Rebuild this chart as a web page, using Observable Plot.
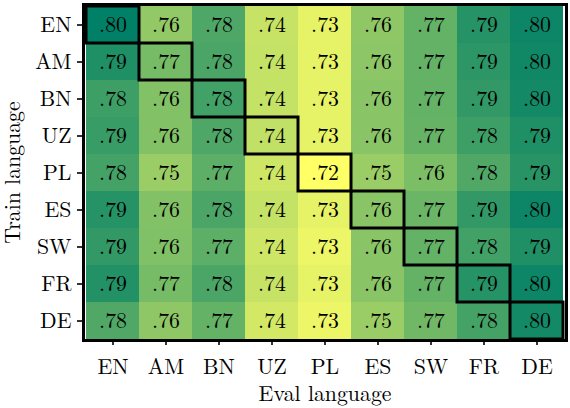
<!DOCTYPE html>
<html>
<head>
<meta charset="utf-8">
<script src="https://cdn.jsdelivr.net/npm/d3@7"></script>
<script src="https://cdn.jsdelivr.net/npm/@observablehq/plot@0.6"></script>
<style>
  html, body { margin: 0; padding: 0; background: #fff; }
  #chart svg { display: block; }
  #chart svg, #chart svg text { font-family: 'Latin Modern Roman', 'Liberation Serif', serif !important; }
</style>
</head>
<body>
<div id="chart"></div>
<script>
// Eval languages (columns) and train languages (rows)
const evalLangs  = ["EN", "AM", "BN", "UZ", "PL", "ES", "SW", "FR", "DE"];
const trainLangs = ["EN", "AM", "BN", "UZ", "PL", "ES", "SW", "FR", "DE"];

// Scores per train language (labels show 2 decimals)
const rowEN = [0.804, 0.757, 0.779, 0.740, 0.730, 0.758, 0.772, 0.792, 0.800];
const rowAM = [0.794, 0.766, 0.780, 0.741, 0.730, 0.759, 0.772, 0.790, 0.799];
const rowBN = [0.784, 0.762, 0.783, 0.741, 0.730, 0.760, 0.772, 0.788, 0.798];
const rowUZ = [0.786, 0.762, 0.779, 0.742, 0.730, 0.760, 0.771, 0.784, 0.794];
const rowPL = [0.782, 0.754, 0.774, 0.738, 0.722, 0.754, 0.764, 0.778, 0.791];
const rowES = [0.792, 0.762, 0.780, 0.741, 0.730, 0.760, 0.770, 0.788, 0.800];
const rowSW = [0.788, 0.763, 0.774, 0.738, 0.728, 0.760, 0.772, 0.783, 0.794];
const rowFR = [0.793, 0.766, 0.780, 0.740, 0.730, 0.760, 0.772, 0.792, 0.800];
const rowDE = [0.778, 0.758, 0.772, 0.736, 0.728, 0.754, 0.768, 0.782, 0.798];

const rows = [rowEN, rowAM, rowBN, rowUZ, rowPL, rowES, rowSW, rowFR, rowDE];

const data = [];
trainLangs.forEach((t, i) => {
  evalLangs.forEach((e, j) => {
    data.push({train: t, eval: e, value: rows[i][j]});
  });
});
const diag = data.filter(d => d.train === d.eval);

const fmt = v => d3.format(".2f")(v).replace(/^0/, "");

const font = "Latin Modern Roman";
const fs = 21.8;

const chart = Plot.plot({
  width: 570,
  height: 408,
  marginLeft: 83,
  marginRight: 4,
  marginTop: 4,
  marginBottom: 68,
  style: "font-family: 'Latin Modern Roman', serif; font-size: 22px; color: black; background: white;",
  x: {type: "band", domain: evalLangs, padding: 0, axis: null},
  y: {type: "band", domain: trainLangs, padding: 0, axis: null},
  color: {
    type: "linear",
    domain: [0.722, 0.804],
    range: ["#ffff66", "#008066"],
    interpolate: "rgb"
  },
  marks: [
    Plot.cell(data, {x: "eval", y: "train", fill: "value", inset: 0}),
    Plot.text(data, {x: "eval", y: "train", text: d => fmt(d.value), fill: "black", fontSize: fs, fontFamily: font}),
    Plot.cell(diag, {x: "eval", y: "train", fill: "none", stroke: "black", strokeWidth: 3, inset: 0}),
    Plot.frame({stroke: "black", strokeWidth: 3}),
    Plot.axisX({tickSize: 5, tickPadding: 13, strokeWidth: 1.6, label: null, fontSize: fs, fontFamily: font}),
    Plot.axisY({tickSize: 6, tickPadding: 6, strokeWidth: 1.6, label: null, fontSize: fs, fontFamily: font}),
    Plot.text(["Eval language"], {frameAnchor: "bottom", dy: 54, lineAnchor: "middle", textAnchor: "middle", fontSize: fs, fontFamily: font}),
    Plot.text(["Train language"], {frameAnchor: "left", dx: -70, rotate: -90, lineAnchor: "middle", textAnchor: "middle", fontSize: fs, fontFamily: font})
  ]
});

document.getElementById("chart").appendChild(chart);
</script>
</body>
</html>
